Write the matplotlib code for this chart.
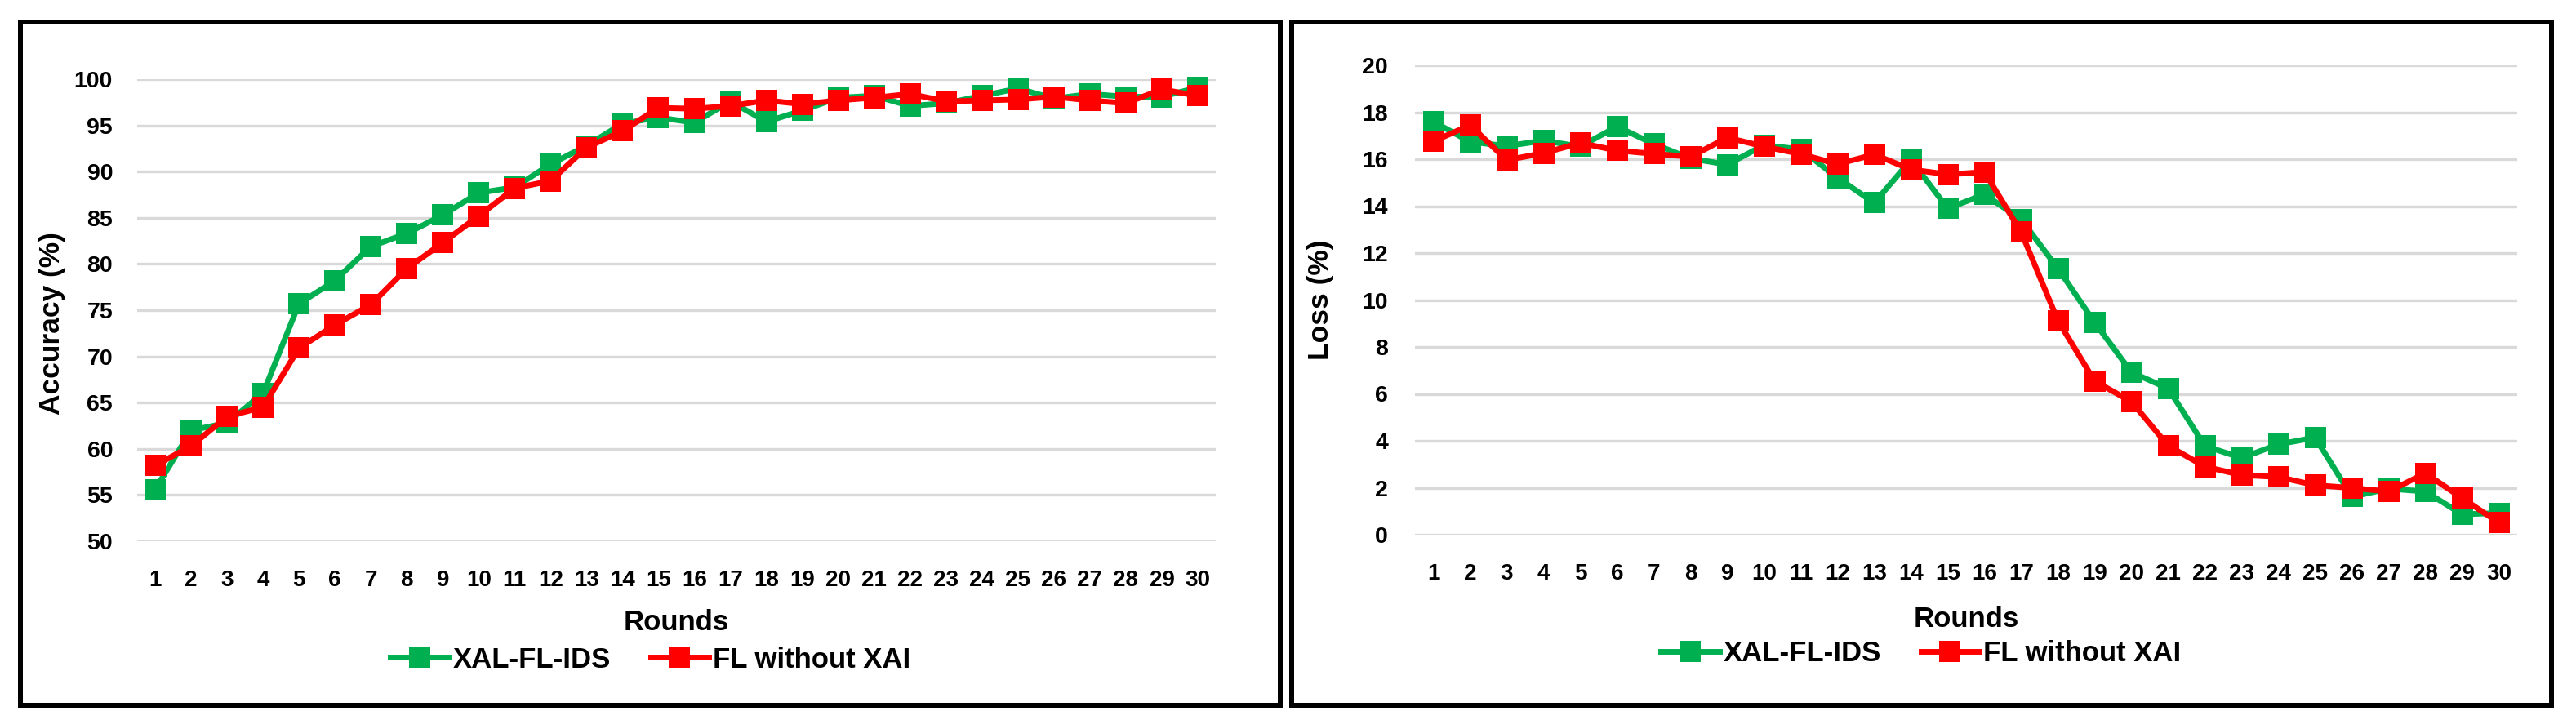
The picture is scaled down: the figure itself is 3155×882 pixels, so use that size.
import matplotlib
matplotlib.use("Agg")
import matplotlib.pyplot as plt
import matplotlib.patches as mpatches
import numpy as np

plt.rcParams['font.family'] = ['Liberation Sans', 'DejaVu Sans']
plt.rcParams['font.weight'] = 'bold'

# %% data
rounds = list(range(1, 31))

acc_xal = [55.6, 62.0, 62.8, 66.0, 75.7, 78.2, 81.9, 83.3, 85.3, 87.7,
           88.3, 90.8, 92.8, 95.2, 95.85, 95.3, 97.6, 95.4, 96.6, 98.0,
           98.2, 97.1, 97.4, 98.2, 99.0, 97.9, 98.4, 98.1, 98.1, 99.1]
acc_fl = [58.2, 60.3, 63.5, 64.5, 70.9, 73.4, 75.6, 79.5, 82.3, 85.2,
          88.2, 89.0, 92.6, 94.4, 96.9, 96.8, 97.1, 97.7, 97.3, 97.7,
          98.0, 98.4, 97.6, 97.7, 97.8, 98.1, 97.7, 97.4, 98.9, 98.2]

loss_xal = [17.6, 16.74, 16.56, 16.79, 16.54, 17.39, 16.65, 16.03, 15.77, 16.6,
            16.42, 15.21, 14.14, 15.97, 13.9, 14.5, 13.43, 11.34, 9.04, 6.92,
            6.23, 3.78, 3.27, 3.85, 4.14, 1.62, 1.96, 1.84, 0.87, 0.92]
loss_fl = [16.76, 17.45, 15.96, 16.26, 16.69, 16.37, 16.23, 16.1, 16.92, 16.54,
           16.22, 15.79, 16.2, 15.56, 15.35, 15.45, 12.89, 9.12, 6.54, 5.67,
           3.79, 2.9, 2.54, 2.46, 2.11, 1.99, 1.84, 2.62, 1.56, 0.51]

series_names = ['XAL-FL-IDS', 'FL without XAI']
green = '#00B050'
red = '#FF0000'

W, H = 3155, 882
fig = plt.figure(figsize=(W / 100, H / 100), dpi=100)


def fx(px):
    return px / W


def fy(py):
    return 1 - py / H


def panel(rect, y1, y2, ylim, step, ylabel, ypad, ylab_pos, xlab_pos, leg_pos):
    ax = fig.add_axes(rect)
    ax.plot(rounds, y1, color=green, lw=5, marker='s', ms=19, mew=0,
            label=series_names[0], clip_on=False, zorder=3)
    ax.plot(rounds, y2, color=red, lw=5, marker='s', ms=19, mew=0,
            label=series_names[1], clip_on=False, zorder=4)
    ax.set_xlim(0.5, 30.5)
    ax.set_ylim(*ylim)
    ax.set_xticks(rounds)
    ax.set_yticks(np.arange(ylim[0], ylim[1] + step / 2, step))
    ax.grid(axis='y', color='#D9D9D9', lw=2.4)
    ax.set_axisbelow(True)
    for s in ax.spines.values():
        s.set_visible(False)
    ax.tick_params(axis='x', length=0, pad=25, labelsize=20)
    ax.tick_params(axis='y', length=0, pad=ypad, labelsize=20.5)
    for lab in ax.get_xticklabels() + ax.get_yticklabels():
        lab.set_fontweight('bold')
    fig.text(fx(ylab_pos[0]), fy(ylab_pos[1]), ylabel, rotation=90,
             ha='center', va='center', fontsize=25.5, fontweight='bold')
    fig.text(fx(xlab_pos[0]), fy(xlab_pos[1]), 'Rounds',
             ha='center', va='center', fontsize=25, fontweight='bold')
    h, l = ax.get_legend_handles_labels()
    fig.legend(h, l, loc='center', bbox_to_anchor=(fx(leg_pos[0]), fy(leg_pos[1])),
               ncol=2, frameon=False, prop={'size': 25, 'weight': 'bold'},
               handlelength=2.05, handletextpad=0.15, columnspacing=1.4,
               borderpad=0, borderaxespad=0)
    return ax


panel([fx(168), fy(663), 1321 / W, 566 / H], acc_xal, acc_fl, (50, 100), 5,
      'Accuracy (%)', 21.6, (64, 396), (828, 763), (797, 808))
panel([fx(1733), fy(655), 1350 / W, 575 / H], loss_xal, loss_fl, (0, 20), 2,
      'Loss (%)', 23.8, (1617, 367), (2408, 758), (2353, 801))

# black frames around each chart
for x0 in (25, 1582):
    fig.add_artist(mpatches.Rectangle((fx(x0), fy(864)), 1543 / W, 837 / H,
                                      transform=fig.transFigure, fill=False,
                                      edgecolor='black', linewidth=4.32))

fig.savefig('out.png', dpi=100)
